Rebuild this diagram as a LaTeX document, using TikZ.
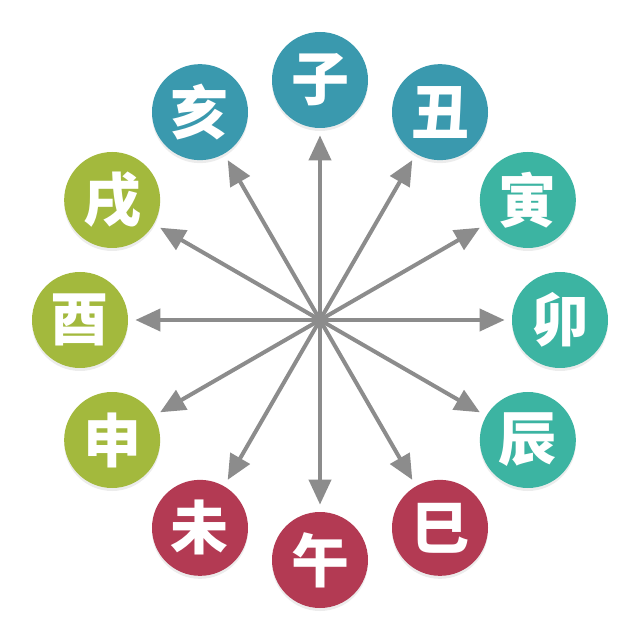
\documentclass[tikz,border=0pt]{standalone}
\usepackage{fontspec}
\newfontfamily\cjk{Noto Sans CJK SC}
\usetikzlibrary{arrows.meta,shadows}
\definecolor{winter}{HTML}{3A99AE}
\definecolor{spring}{HTML}{3CB4A2}
\definecolor{summer}{HTML}{B33A53}
\definecolor{autumn}{HTML}{A3B93D}

\begin{document}
\begin{tikzpicture}[x=0.5pt,y=0.5pt,
    branch/.style={circle, minimum size=48pt, inner sep=0pt, text=white,
        font=\cjk\bfseries\fontsize{29}{29}\selectfont,
        drop shadow={opacity=0.15, shadow xshift=0pt, shadow yshift=-1.5pt}},
]
\useasboundingbox (-320,-320) rectangle (320,320);
\coordinate (o) at (0,0);
\node[branch, fill=winter] (zi)   at (90:240)   {子};
\node[branch, fill=winter] (chou) at (60:240)   {丑};
\node[branch, fill=spring] (yin)  at (30:240)   {寅};
\node[branch, fill=spring] (mao)  at (0:240)    {卯};
\node[branch, fill=spring] (chen) at (-30:240)  {辰};
\node[branch, fill=summer] (si)   at (-60:240)  {巳};
\node[branch, fill=summer] (wu)   at (-90:240)  {午};
\node[branch, fill=summer] (wei)  at (-120:240) {未};
\node[branch, fill=autumn] (shen) at (-150:240) {申};
\node[branch, fill=autumn] (you)  at (180:240)  {酉};
\node[branch, fill=autumn] (xu)   at (150:240)  {戌};
\node[branch, fill=winter] (hai)  at (120:240)  {亥};
\path[
    line width=2pt, gray!90, shorten >=3.5pt,
    -{Triangle[length=12.5pt,width=11pt]},
]
(o) edge (zi) edge (chou) edge (yin) edge (mao)
    edge (chen) edge (si) edge (wu) edge (wei)
    edge (shen) edge (you) edge (xu) edge (hai)
;
\end{tikzpicture}
\end{document}
